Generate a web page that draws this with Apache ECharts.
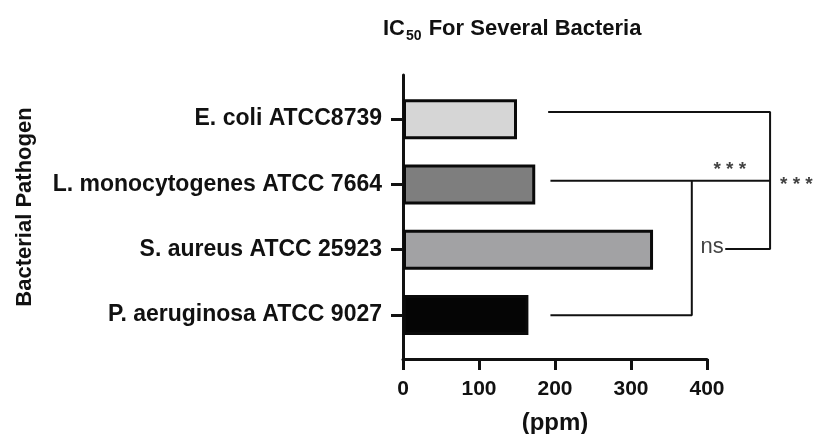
<!DOCTYPE html>
<html>
<head>
<meta charset="utf-8">
<script src="https://cdn.jsdelivr.net/npm/echarts@6/dist/echarts.min.js"></script>
<style>
html,body{margin:0;padding:0;background:#fff;}
#chart{width:813px;height:434px;}
</style>
</head>
<body>
<div id="chart"></div>
<script>
// ---- data ----
const categories = ['E. coli ATCC8739', 'L. monocytogenes ATCC 7664', 'S. aureus ATCC 25923', 'P. aeruginosa ATCC 9027'];
const ic50Values = [150, 174, 329, 165];
const barColors = ['#d6d6d6', '#7e7e7e', '#a2a2a4', '#050505'];
const xTickValues = [0, 100, 200, 300, 400];
// significance brackets: [ppm, category position]
const bracketOuter = [[191, -0.11], [483, -0.11], [483, 1.99], [424, 1.99]];
const bracketInnerTop = [[194, 0.944], [483, 0.944]];
const bracketInner = [[380, 0.944], [380, 3.006], [194, 3.006]];
const sigTexts = ['***', '***', 'ns'];
const sigPoints = [[430, 0.78], [496, 1.01], [422, 1.96]];

const FONT = "'Liberation Sans', Arial, Helvetica, sans-serif";
const TXT = '#111';
const W = 813;
const plotLeft = 403, plotRight = 707;
const xMin = xTickValues[0], xMax = xTickValues[xTickValues.length - 1];
// overlay grid spans to the right edge so brackets can extend past the axis end
const overlayMax = xMin + (xMax - xMin) * (W - plotLeft) / (plotRight - plotLeft);

const chart = echarts.init(document.getElementById('chart'), null, {renderer: 'canvas'});

const lineSeries = [bracketOuter, bracketInnerTop, bracketInner].map(pts => ({
  type: 'line', xAxisIndex: 1, yAxisIndex: 2, data: pts, symbol: 'none', clip: false,
  silent: true, animation: false, lineStyle: {color: '#111', width: 2}, z: 3
}));

const sigAlign = ['center', 'left', 'right'];
const sigData = sigPoints.map((p, i) => ({
  value: p, name: sigTexts[i],
  label: {
    show: true, formatter: sigTexts[i] === 'ns' ? 'ns' : '* * *',
    position: 'inside', align: sigAlign[i], verticalAlign: 'middle',
    fontFamily: FONT, fontSize: sigTexts[i] === 'ns' ? 22 : 19,
    fontWeight: sigTexts[i] === 'ns' ? 'normal' : 'bold', color: TXT
  }
}));

chart.setOption({
  animation: false,
  backgroundColor: '#fff',
  title: {
    text: '{a|IC}{s|50}{a| For Several Bacteria}',
    left: 383, top: 18, padding: 0,
    textStyle: {
      rich: {
        a: {fontFamily: FONT, fontSize: 22, fontWeight: 'bold', color: TXT, lineHeight: 22, verticalAlign: 'top'},
        s: {fontFamily: FONT, fontSize: 14, fontWeight: 'bold', color: TXT, lineHeight: 14, verticalAlign: 'top', padding: [11, 1, 0, 1]}
      }
    }
  },
  grid: [
    {left: plotLeft, right: W - plotRight, top: 75, bottom: 75, containLabel: false, outerBoundsMode: 'none'},
    {left: plotLeft, right: 0, top: 86.5, bottom: 86.5, containLabel: false, outerBoundsMode: 'none'}
  ],
  xAxis: [
    {
      gridIndex: 0, type: 'value', min: xMin, max: xMax,
      interval: xTickValues[1] - xTickValues[0],
      axisLine: {show: true, lineStyle: {color: '#111', width: 3}},
      axisTick: {show: true, length: 11, lineStyle: {color: '#111', width: 3}},
      axisLabel: {fontFamily: FONT, fontSize: 21, fontWeight: 'bold', color: TXT, margin: 20},
      splitLine: {show: false},
      name: '(ppm)', nameLocation: 'middle', nameGap: 52,
      nameTextStyle: {fontFamily: FONT, fontSize: 24, fontWeight: 'bold', color: TXT}
    },
    {gridIndex: 1, type: 'value', min: xMin, max: overlayMax, show: false}
  ],
  yAxis: [
    {
      gridIndex: 0, type: 'value', min: 0, max: 1,
      axisLine: {show: true, lineStyle: {color: '#111', width: 3}},
      axisTick: {show: false}, axisLabel: {show: false}, splitLine: {show: false}
    },
    {
      gridIndex: 1, type: 'category', inverse: true, data: categories,
      axisLine: {show: false},
      axisTick: {show: true, alignWithLabel: true, length: 12, lineStyle: {color: '#111', width: 3}},
      axisLabel: {fontFamily: FONT, fontSize: 23, fontWeight: 'bold', color: TXT, margin: 21},
      name: 'Bacterial Pathogen', nameLocation: 'middle', nameGap: 367, nameRotate: 90,
      nameTextStyle: {fontFamily: FONT, fontSize: 22, fontWeight: 'bold', color: TXT, padding: [0, 0, 0, 20]}
    },
    {gridIndex: 1, type: 'value', min: -0.5, max: 3.5, inverse: true, show: false}
  ],
  series: [
    {
      type: 'bar', xAxisIndex: 1, yAxisIndex: 1, barWidth: 40,
      data: ic50Values.map((v, i) => ({value: v, itemStyle: {color: barColors[i]}})),
      itemStyle: {borderColor: '#0a0a0a', borderWidth: 3},
      silent: true
    },
    ...lineSeries,
    {
      type: 'scatter', xAxisIndex: 1, yAxisIndex: 2, symbolSize: 0, clip: false, silent: true,
      data: sigData, z: 4
    }
  ]
});
</script>
</body>
</html>
